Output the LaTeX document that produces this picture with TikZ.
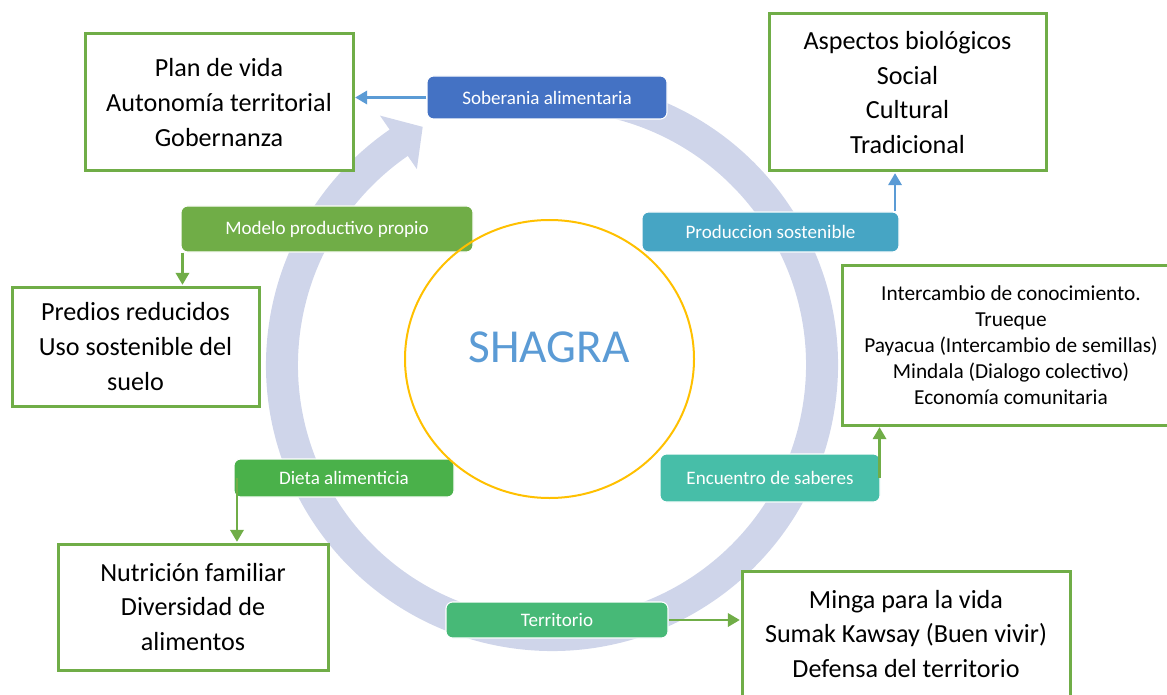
\documentclass[tikz,border=0pt]{standalone}
\usepackage{fontspec}
\setmainfont{Carlito}
\usetikzlibrary{arrows.meta}

\definecolor{ringcolor}{HTML}{CFD5EA}
\definecolor{boxgreen}{HTML}{70AD47}
\definecolor{lineblue}{HTML}{5B9BD5}
\definecolor{shagrablue}{HTML}{5B9BD5}
\definecolor{circleyellow}{HTML}{FFC000}
\definecolor{soberfill}{HTML}{4472C4}
\definecolor{modelofill}{HTML}{70AD47}
\definecolor{producfill}{HTML}{46A5C4}
\definecolor{encuentrofill}{HTML}{47BEA8}
\definecolor{dietafill}{HTML}{4AB14A}
\definecolor{territoriofill}{HTML}{47B977}

\begin{document}
\begin{tikzpicture}[x=0.75pt,y=0.75pt]

    \def\px{0.75pt}
    \def\ringR{270}
    \tikzset{
      infobox/.style={draw=boxgreen, line width=2.25pt, fill=white, align=center,
                      inner sep=0pt, font=\fontsize{19.6}{26}\selectfont},
      pill/.style={rounded corners=5pt, draw=white, line width=0.8pt, text=white,
                   inner sep=0pt, font=\fontsize{14.3}{17}\selectfont},
      blueline/.style={draw=lineblue, line width=1.9pt, -{Triangle[length=9pt,width=10pt]}, shorten >=0.5pt},
      greenline/.style={draw=boxgreen, line width=1.9pt, -{Triangle[length=9pt,width=10pt]}, shorten >=0.5pt}
    }

    \useasboundingbox (0,0) rectangle (1167,694);

    % circular arrow
    \draw[ringcolor, line width=32*\px] (552,329) ++(80:\ringR)
         arc[start angle=80, end angle=-236, radius=\ringR];
    \fill[ringcolor, shift={(552,329)}] (124.6:303) -- (118.5:271) -- (124.6:238) -- cycle;

    % outer boxes
    \node[infobox, minimum width=268*\px, minimum height=137*\px] (plan) at (219,591.5)
         {Plan de vida\\Autonomía territorial\\Gobernanza};
    \node[infobox, minimum width=247*\px, minimum height=119*\px] (predios) at (135.5,347.5)
         {Predios reducidos\\Uso sostenible del\\suelo};
    \node[infobox, minimum width=277*\px, minimum height=157*\px] (aspectos) at (907.5,601.5)
         {Aspectos biológicos\\Social\\Cultural\\Tradicional};
    \node[infobox, minimum width=338*\px, minimum height=160*\px,
          font=\fontsize{16}{19.6}\selectfont] (intercambio) at (1011,349)
         {Intercambio de conocimiento.\\Trueque\\Payacua (Intercambio de semillas)\\Mindala (Dialogo colectivo)\\Economía comunitaria};
    \node[infobox, minimum width=270*\px, minimum height=126*\px] (nutricion) at (193,87)
         {Nutrición familiar\\Diversidad de\\alimentos};
    \node[infobox, minimum width=328*\px, minimum height=126*\px] (minga) at (906,60)
         {Minga para la vida\\Sumak Kawsay (Buen vivir)\\Defensa del territorio};

    % labels on the ring
    \node[pill, fill=soberfill, minimum width=240*\px, minimum height=43*\px] (sober) at (547,596.5)
         {Soberania alimentaria};
    \node[pill, fill=modelofill, minimum width=292*\px, minimum height=46*\px] (modelo) at (327,465)
         {Modelo productivo propio};
    \node[pill, fill=producfill, minimum width=257*\px, minimum height=40*\px] (produc) at (770.5,462)
         {Produccion sostenible};
    \node[pill, fill=encuentrofill, minimum width=220*\px, minimum height=48*\px] (encuentro) at (770,216)
         {Encuentro de saberes};
    \node[pill, fill=dietafill, minimum width=220*\px, minimum height=38*\px] (dieta) at (344,216)
         {Dieta alimenticia};
    \node[pill, fill=territoriofill, minimum width=222*\px, minimum height=36*\px] (territorio) at (557,74)
         {Territorio};

    % centre
    \draw[circleyellow, line width=1.5pt] (549.5,335) ellipse [x radius=144.5, y radius=139];
    \node[text=shagrablue, font=\fontsize{35.5}{40}\selectfont, inner sep=0pt] (shagra) at (549,347) {SHAGRA};

    % connectors
    \draw[blueline] (sober.west) -- (sober.west -| plan.east);
    \draw[blueline] ([xshift=-4.5*\px]produc.north east) -- ([xshift=-4.5*\px]produc.north east |- aspectos.south);
    \draw[greenline] ([xshift=2*\px]modelo.south west) -- ([xshift=2*\px]modelo.south west |- predios.north);
    \draw[greenline] ([xshift=-1*\px]encuentro.east) -- ([xshift=-1*\px]encuentro.east |- intercambio.south);
    \draw[greenline] ([xshift=3.5*\px]dieta.west) -- ([xshift=3.5*\px]dieta.west |- nutricion.north);
    \draw[greenline] (territorio.east) -- (territorio.east -| minga.west);

\end{tikzpicture}
\end{document}
